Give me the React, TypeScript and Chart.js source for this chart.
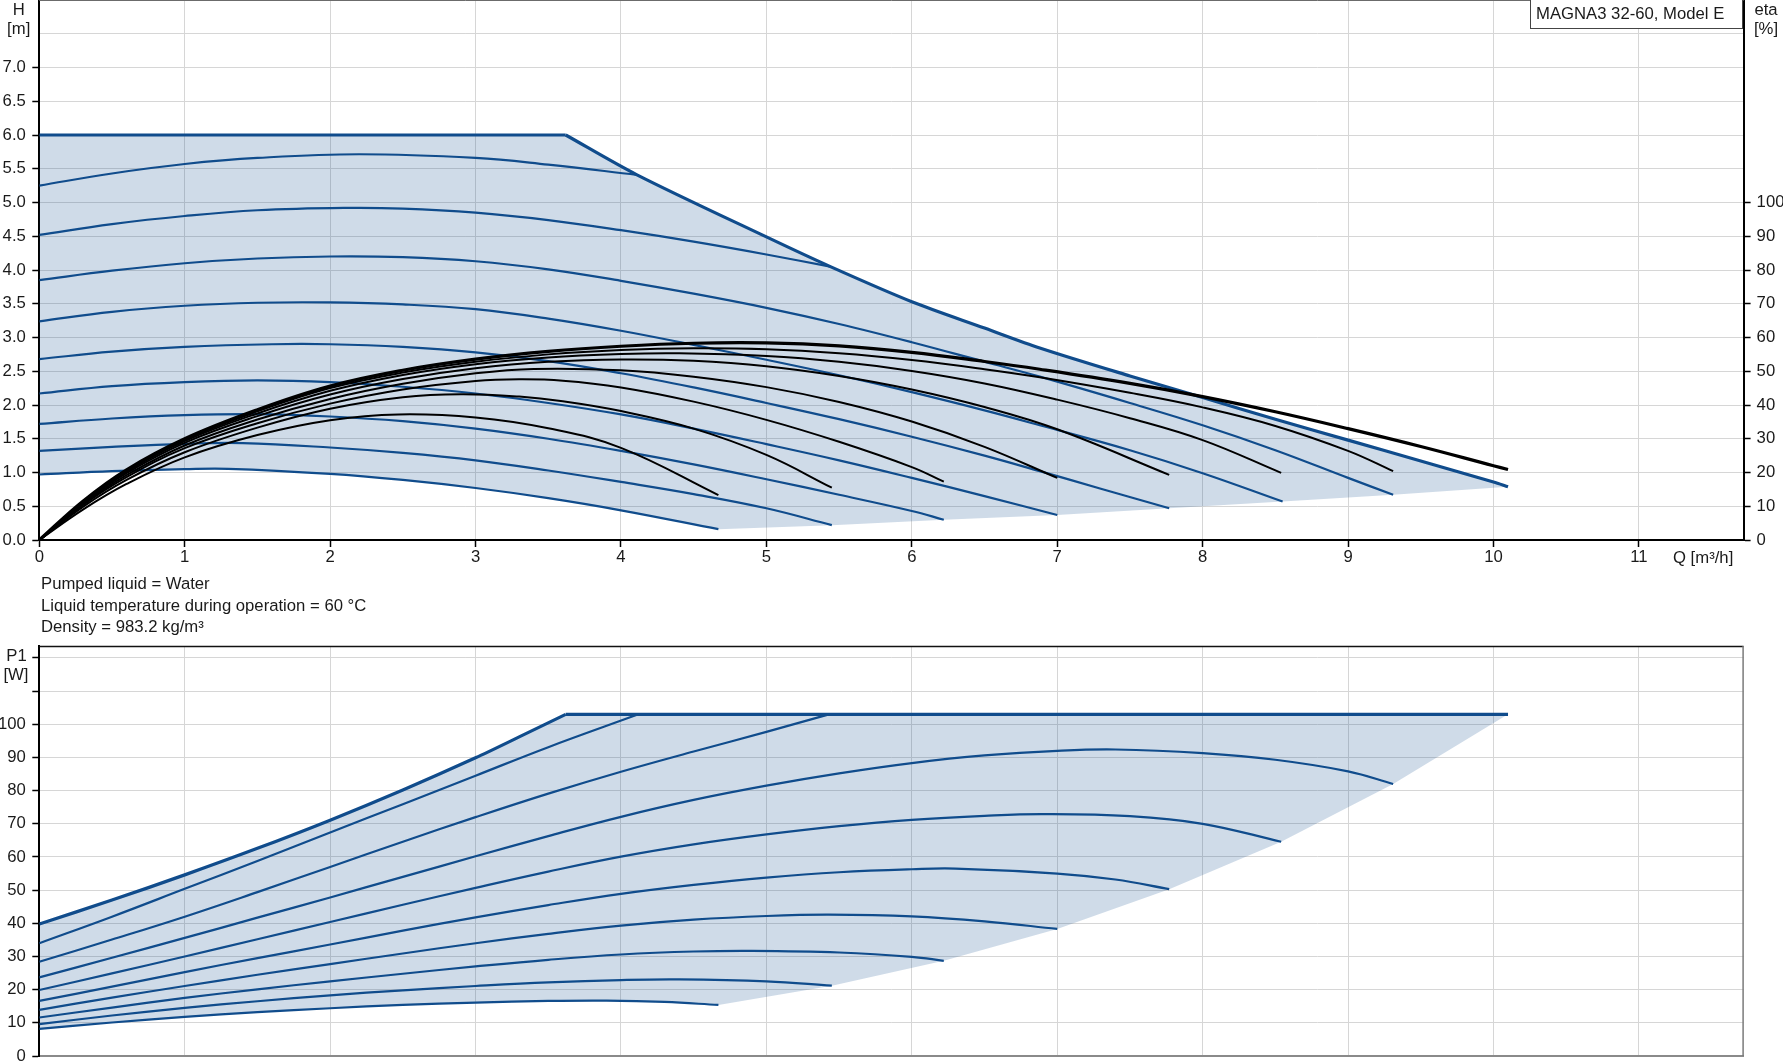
import React, { useEffect, useRef } from "react";
import { Chart, registerables } from "chart.js";

Chart.register(...registerables);

type Pt = [number, number];

/* ---------------- axis ticks ---------------- */
const Q_TICKS = [0, 1, 2, 3, 4, 5, 6, 7, 8, 9, 10, 11];
const Q_RANGE: Pt = [0, 11.72];
const H_TICKS = [0, 0.5, 1, 1.5, 2, 2.5, 3, 3.5, 4, 4.5, 5, 5.5, 6, 6.5, 7, 7.5, 8];
const H_TICK_LABELS = ["0.0", "0.5", "1.0", "1.5", "2.0", "2.5", "3.0", "3.5", "4.0", "4.5", "5.0", "5.5", "6.0", "6.5", "7.0", "", ""];
const H_RANGE: Pt = [0, 8];
const ETA_TICKS = [0, 10, 20, 30, 40, 50, 60, 70, 80, 90, 100];
const ETA_RANGE: Pt = [0, 160];
const P_TICKS = [0, 10, 20, 30, 40, 50, 60, 70, 80, 90, 100, 110, 120];
const P_TICK_LABELS = ["0", "10", "20", "30", "40", "50", "60", "70", "80", "90", "100", "", ""];
const P_RANGE: Pt = [0, 123.6];

/* ---------------- H (head) curves [Q, H] ---------------- */
const H_MAX_FLAT: Pt[] = [[0, 6.0], [3.62, 6.0]];
const H_MAX_FALL: Pt[] = [[3.62, 6.0], [4.11, 5.41], [5.0, 4.49], [5.44, 4.05], [6.0, 3.53], [6.5, 3.14], [6.88, 2.845], [7.5, 2.43], [8.0, 2.11], [8.5, 1.79], [9.0, 1.48], [9.5, 1.17], [10.0, 0.86], [10.1, 0.79]];
const H_1: Pt[] = [[0, 5.25], [0.5, 5.43], [1, 5.57], [1.5, 5.66], [2.2, 5.715], [3, 5.66], [3.5, 5.56], [4.11, 5.41]];
const H_2: Pt[] = [[0, 4.52], [0.5, 4.68], [1, 4.8], [1.5, 4.885], [2.1, 4.92], [2.5, 4.91], [3, 4.85], [3.5, 4.74], [4, 4.59], [4.5, 4.42], [5, 4.23], [5.44, 4.05]];
const H_3: Pt[] = [[0, 3.85], [0.5, 3.99], [1, 4.1], [1.5, 4.17], [2, 4.2], [2.5, 4.19], [3, 4.13], [3.5, 4.01], [4, 3.84], [4.5, 3.65], [5, 3.44], [5.5, 3.2], [6, 2.93], [6.5, 2.64], [6.88, 2.42], [7.5, 2.03], [8, 1.7], [8.5, 1.33], [9, 0.92], [9.31, 0.67]];
const H_4: Pt[] = [[0, 3.24], [0.5, 3.38], [1, 3.47], [1.5, 3.515], [2, 3.52], [2.5, 3.49], [3, 3.42], [3.5, 3.28], [4, 3.1], [4.5, 2.89], [5, 2.67], [5.5, 2.44], [6, 2.19], [6.5, 1.92], [6.88, 1.7], [7.5, 1.33], [8, 0.99], [8.55, 0.57]];
const H_5: Pt[] = [[0, 2.68], [0.5, 2.79], [1, 2.86], [1.6, 2.9], [2, 2.9], [2.5, 2.86], [3, 2.78], [3.5, 2.65], [4, 2.47], [4.5, 2.26], [5, 2.03], [5.5, 1.79], [6, 1.53], [6.5, 1.25], [6.88, 1.02], [7.3, 0.76], [7.77, 0.47]];
const H_6: Pt[] = [[0, 2.17], [0.5, 2.28], [1, 2.34], [1.5, 2.365], [2, 2.34], [2.5, 2.27], [3, 2.17], [3.5, 2.03], [4, 1.86], [4.5, 1.65], [5, 1.42], [5.5, 1.18], [6, 0.92], [6.5, 0.65], [7.0, 0.37]];
const H_7: Pt[] = [[0, 1.72], [0.5, 1.8], [1, 1.85], [1.5, 1.865], [2, 1.83], [2.5, 1.76], [3, 1.65], [3.5, 1.5], [4, 1.32], [4.5, 1.12], [5, 0.9], [5.5, 0.67], [6, 0.43], [6.22, 0.3]];
const H_8: Pt[] = [[0, 1.32], [0.5, 1.38], [1, 1.425], [1.4, 1.435], [2, 1.37], [2.5, 1.29], [3, 1.18], [3.5, 1.03], [4, 0.86], [4.5, 0.68], [5, 0.47], [5.45, 0.22]];
const H_9: Pt[] = [[0, 0.97], [0.5, 1.02], [1, 1.05], [1.3, 1.055], [2, 0.98], [2.5, 0.89], [3, 0.77], [3.5, 0.62], [4, 0.44], [4.67, 0.16]];
const H_LOWER_EDGE: Pt[] = [[4.67, 0.16], [5.45, 0.22], [6.22, 0.3], [7.0, 0.37], [7.77, 0.47], [8.55, 0.57], [9.31, 0.67], [10.1, 0.79]];

/* ---------------- eta (efficiency) curves [Q, %] ---------------- */
const ETA_8: Pt[] = [[0, 0], [0.3, 11.5], [0.6, 20.8], [1, 30], [1.5, 38.6], [2, 45.6], [2.5, 50.3], [3, 53.6], [3.5, 55.9], [4, 57.4], [4.5, 58.3], [5, 58.4], [5.5, 57.5], [6, 55.6], [6.5, 52.9], [6.88, 50.6], [7.5, 46.4], [8, 42.5], [8.5, 38], [9, 33], [9.5, 27.7], [10, 22], [10.1, 20.9]];
const ETA_7: Pt[] = [[0, 0], [0.3, 11.3], [0.6, 20.5], [1, 29.7], [1.5, 38.1], [2, 45], [2.5, 49.6], [3, 52.8], [3.5, 55], [4, 56.3], [4.5, 56.8], [5, 56.5], [5.5, 55.3], [6, 53.3], [6.5, 50.6], [6.88, 48.2], [7.5, 43.6], [8, 39.3], [8.5, 33.8], [9, 26.4], [9.31, 20.4]];
const ETA_6: Pt[] = [[0, 0], [0.3, 11.1], [0.6, 20.2], [1, 29.3], [1.5, 37.5], [2, 44.2], [2.5, 48.9], [3, 52.1], [3.5, 54.1], [4, 55.1], [4.4, 55.3], [5, 54.5], [5.5, 52.8], [6, 50.1], [6.5, 46.4], [7, 41.6], [7.5, 36.1], [8, 29.6], [8.54, 19.9]];
const ETA_5: Pt[] = [[0, 0], [0.3, 10.9], [0.6, 19.8], [1, 28.8], [1.5, 36.7], [2, 43.1], [2.5, 47.7], [3, 50.9], [3.5, 52.8], [4, 53.5], [4.5, 53.1], [5, 51.5], [5.5, 48.6], [6, 44.6], [6.5, 39.4], [7, 32.8], [7.77, 19.3]];
const ETA_4: Pt[] = [[0, 0], [0.3, 10.6], [0.6, 19.2], [1, 28], [1.5, 35.7], [2, 41.8], [2.5, 46.3], [3, 49.4], [3.4, 50.7], [4, 50.3], [4.5, 48.4], [5, 45.3], [5.5, 40.9], [6, 35.1], [6.5, 27.6], [7.0, 18.4]];
const ETA_3: Pt[] = [[0, 0], [0.3, 10.3], [0.6, 18.6], [1, 27.2], [1.5, 34.6], [2, 40.4], [2.5, 44.6], [3, 47.1], [3.3, 47.6], [3.6, 47.2], [4, 45.2], [4.5, 41], [5, 35.6], [5.5, 29.1], [6, 21.6], [6.22, 17.3]];
const ETA_2: Pt[] = [[0, 0], [0.3, 9.8], [0.6, 17.8], [1, 26], [1.5, 33.3], [2, 38.9], [2.5, 42.3], [2.9, 43.2], [3.3, 42.5], [3.6, 41.1], [4, 38.2], [4.5, 33], [5, 25.2], [5.45, 15.5]];
const ETA_1: Pt[] = [[0, 0], [0.3, 9], [0.6, 16.6], [1, 24.5], [1.5, 31.1], [2, 35.5], [2.47, 37.2], [3, 36.3], [3.5, 33.1], [4, 27.3], [4.67, 13.3]];

/* ---------------- P1 (power) curves [Q, W] ---------------- */
const P_MAX_RISE: Pt[] = [[0, 39.8], [0.5, 47.0], [1, 54.6], [1.5, 62.6], [2, 71.1], [2.5, 80.2], [3, 89.9], [3.3, 96.2], [3.62, 103]];
const P_MAX_FLAT: Pt[] = [[3.62, 103], [10.1, 103]];
const P_2: Pt[] = [[0, 34], [0.5, 42], [1, 50.4], [1.5, 58.8], [2, 67.4], [2.5, 75.9], [3, 84.5], [3.5, 93.1], [4.12, 103]];
const P_3: Pt[] = [[0, 28.4], [0.5, 35.1], [1, 42], [1.5, 49.4], [2, 57], [2.5, 64.6], [3, 72], [3.5, 79.1], [4, 85.7], [4.5, 91.8], [5, 97.7], [5.43, 103]];
const P_4: Pt[] = [[0, 23.7], [0.5, 29.6], [1, 35.6], [1.5, 41.7], [2, 47.8], [2.5, 54], [3, 60.2], [3.5, 66.3], [4, 72.1], [4.5, 77.2], [5, 81.5], [5.5, 85.2], [6, 88.3], [6.5, 90.6], [7, 92], [7.4, 92.4], [8, 91.3], [8.5, 89.3], [9, 85.8], [9.31, 82]];
const P_5: Pt[] = [[0, 19.9], [0.5, 24.9], [1, 30], [1.5, 35.2], [2, 40.4], [2.5, 45.6], [3, 50.7], [3.5, 55.6], [4, 60.1], [4.5, 63.8], [5, 66.8], [5.5, 69.3], [6, 71.2], [6.5, 72.4], [6.9, 72.9], [7.5, 72.3], [8, 70], [8.54, 64.6]];
const P_6: Pt[] = [[0, 16.6], [0.5, 20.9], [1, 25.3], [1.5, 29.5], [2, 33.6], [2.5, 37.8], [3, 41.8], [3.5, 45.5], [4, 48.9], [4.5, 51.6], [5, 53.8], [5.5, 55.4], [6, 56.3], [6.3, 56.5], [7, 55], [7.4, 53.2], [7.77, 50.3]];
const P_7: Pt[] = [[0, 13.9], [0.5, 17.6], [1, 21.1], [1.5, 24.5], [2, 27.7], [2.5, 30.9], [3, 34], [3.5, 36.8], [4, 39.3], [4.5, 41.1], [5, 42.2], [5.43, 42.6], [6, 42.1], [6.5, 40.6], [7.0, 38.3]];
const P_8: Pt[] = [[0, 11.6], [0.5, 14.6], [1, 17.5], [1.5, 20.1], [2, 22.5], [2.5, 24.8], [3, 27], [3.5, 29], [4, 30.6], [4.5, 31.5], [4.9, 31.7], [5.5, 31.2], [6, 29.9], [6.22, 28.7]];
const P_9: Pt[] = [[0, 9.6], [0.5, 12.2], [1, 14.5], [1.5, 16.5], [2, 18.3], [2.5, 19.8], [3, 21.1], [3.5, 22.2], [4, 22.9], [4.4, 23.1], [5, 22.5], [5.45, 21.2]];
const P_10: Pt[] = [[0, 8.2], [0.5, 10.1], [1, 11.8], [1.5, 13.2], [2, 14.4], [2.5, 15.4], [3, 16.1], [3.5, 16.6], [3.9, 16.7], [4.3, 16.3], [4.67, 15.4]];
const P_LOWER_EDGE: Pt[] = [[4.67, 15.4], [5.45, 21.2], [6.22, 28.7], [7.0, 38.3], [7.77, 50.3], [8.54, 64.6], [9.31, 82], [10.1, 103]];

/* ---------------- texts ---------------- */
const PRODUCT = "MAGNA3 32-60, Model E";
const NOTES = ["Pumped liquid = Water", "Liquid temperature during operation = 60 °C", "Density = 983.2 kg/m³"];

/* ---------------- styling ---------------- */
const FONT = 'Arial, "Liberation Sans", sans-serif';
const FONT_SIZE = 16.7;
const TEXT = "#1a1a1a";
const GRID = "#d6d6d6";
const BLUE = "#104c8c";
const FILL = "rgba(16,76,140,0.2)";

const xy = (pts: Pt[]) => pts.map(([x, y]) => ({ x, y }));
const rev = (pts: Pt[]) => [...pts].reverse();

const zeroPad = (s: any) => {
  s.paddingLeft = 0;
  s.paddingRight = 0;
  s.paddingTop = 0;
  s.paddingBottom = 0;
};

function line(pts: Pt[], color: string, width: number, order: number, yAxisID = "y", tension = 0.4): any {
  return {
    data: xy(pts),
    borderColor: color,
    backgroundColor: color,
    borderWidth: width,
    pointRadius: 0,
    fill: false,
    tension,
    cubicInterpolationMode: "default",
    yAxisID,
    order,
  };
}

function area(pts: Pt[], order: number): any {
  return {
    data: xy(pts),
    borderWidth: 0,
    borderColor: "rgba(0,0,0,0)",
    backgroundColor: FILL,
    pointRadius: 0,
    fill: "shape",
    tension: 0,
    order,
  };
}

const tickFont = { family: FONT, size: FONT_SIZE };

const topFrame = {
  id: "topFrame",
  afterDraw(chart: any) {
    const { ctx, chartArea: a } = chart;
    ctx.save();
    ctx.strokeStyle = "#6b6b6b";
    ctx.lineWidth = 1;
    ctx.beginPath();
    ctx.moveTo(a.left, a.top + 0.5);
    ctx.lineTo(a.right, a.top + 0.5);
    ctx.stroke();
    ctx.restore();
  },
};

const bottomFrame = {
  id: "bottomFrame",
  afterDraw(chart: any) {
    const { ctx, chartArea: a } = chart;
    ctx.save();
    ctx.lineWidth = 1.5;
    ctx.strokeStyle = "#111";
    ctx.beginPath();
    ctx.moveTo(a.left, a.top + 0.5);
    ctx.lineTo(a.right, a.top + 0.5);
    ctx.stroke();
    ctx.strokeStyle = "#7a7a7a";
    ctx.beginPath();
    ctx.moveTo(a.right - 0.5, a.top);
    ctx.lineTo(a.right - 0.5, a.bottom);
    ctx.stroke();
    ctx.restore();
  },
};

function topConfig(): any {
  const datasets = [
    line(ETA_8, "#000", 3.2, 0, "y2"),
    line(ETA_7, "#000", 2, 1, "y2"),
    line(ETA_6, "#000", 2, 1, "y2"),
    line(ETA_5, "#000", 2, 1, "y2"),
    line(ETA_4, "#000", 2, 1, "y2"),
    line(ETA_3, "#000", 2, 1, "y2"),
    line(ETA_2, "#000", 2, 1, "y2"),
    line(ETA_1, "#000", 2, 1, "y2"),
    line(H_MAX_FLAT, BLUE, 3.2, 4, "y", 0),
    line(H_MAX_FALL, BLUE, 3.2, 4, "y", 0.3),
    line(H_1, BLUE, 2.2, 5),
    line(H_2, BLUE, 2.2, 5),
    line(H_3, BLUE, 2.2, 5),
    line(H_4, BLUE, 2.2, 5),
    line(H_5, BLUE, 2.2, 5),
    line(H_6, BLUE, 2.2, 5),
    line(H_7, BLUE, 2.2, 5),
    line(H_8, BLUE, 2.2, 5),
    line(H_9, BLUE, 2.2, 5),
    area([...H_MAX_FLAT, ...H_MAX_FALL.slice(1), ...rev(H_LOWER_EDGE), ...rev(H_9)], 10),
  ];
  return {
    type: "line",
    data: { datasets },
    plugins: [topFrame],
    options: {
      animation: false,
      responsive: false,
      maintainAspectRatio: false,
      devicePixelRatio: 1,
      events: [],
      layout: { padding: 0, autoPadding: false },
      plugins: { legend: { display: false }, tooltip: { enabled: false } },
      scales: {
        x: {
          type: "linear",
          min: Q_RANGE[0],
          max: Q_RANGE[1],
          afterBuildTicks: (s: any) => {
            s.ticks = Q_TICKS.map((v) => ({ value: v }));
          },
          afterFit: (s: any) => {
            s.height = 35;
            zeroPad(s);
          },
          grid: { color: GRID, lineWidth: 1, tickColor: "#000", tickLength: 7, tickWidth: 1.5 },
          border: { color: "#000", width: 2 },
          ticks: { padding: 0, color: TEXT, font: tickFont, maxRotation: 0, autoSkip: false, callback: (v: number) => String(v) },
        },
        y: {
          type: "linear",
          position: "left",
          min: H_RANGE[0],
          max: H_RANGE[1],
          afterBuildTicks: (s: any) => {
            s.ticks = H_TICKS.map((v) => ({ value: v }));
          },
          afterFit: (s: any) => {
            s.width = 39.3;
            zeroPad(s);
          },
          grid: {
            color: GRID,
            lineWidth: 1,
            tickLength: 7,
            tickWidth: 1.5,
            tickColor: (c: any) => (c.tick && c.tick.value > 7 ? "rgba(0,0,0,0)" : "#000"),
          },
          border: { color: "#000", width: 2 },
          ticks: {
            padding: 6.5,
            color: TEXT,
            font: tickFont,
            autoSkip: false,
            callback: (v: number) => H_TICK_LABELS[H_TICKS.indexOf(v)] ?? "",
          },
        },
        y2: {
          type: "linear",
          position: "right",
          min: ETA_RANGE[0],
          max: ETA_RANGE[1],
          afterBuildTicks: (s: any) => {
            s.ticks = ETA_TICKS.map((v) => ({ value: v }));
          },
          afterFit: (s: any) => {
            s.width = 39.4;
            zeroPad(s);
          },
          grid: { drawOnChartArea: false, tickColor: "#000", tickLength: 7, tickWidth: 1.5 },
          border: { color: "#000", width: 2 },
          ticks: { padding: 6, color: TEXT, font: tickFont, autoSkip: false, callback: (v: number) => String(v) },
        },
      },
    },
  };
}

function bottomConfig(): any {
  const datasets = [
    line(P_MAX_RISE, BLUE, 3.2, 4, "y", 0.3),
    line(P_MAX_FLAT, BLUE, 3.2, 4, "y", 0),
    line(P_2, BLUE, 2.2, 5),
    line(P_3, BLUE, 2.2, 5),
    line(P_4, BLUE, 2.2, 5),
    line(P_5, BLUE, 2.2, 5),
    line(P_6, BLUE, 2.2, 5),
    line(P_7, BLUE, 2.2, 5),
    line(P_8, BLUE, 2.2, 5),
    line(P_9, BLUE, 2.2, 5),
    line(P_10, BLUE, 2.2, 5),
    area([...P_MAX_RISE, ...P_MAX_FLAT.slice(1), ...rev(P_LOWER_EDGE), ...rev(P_10)], 10),
  ];
  return {
    type: "line",
    data: { datasets },
    plugins: [bottomFrame],
    options: {
      animation: false,
      responsive: false,
      maintainAspectRatio: false,
      devicePixelRatio: 1,
      events: [],
      layout: { padding: { top: 6, right: 39.4, left: 0, bottom: 0 }, autoPadding: false },
      plugins: { legend: { display: false }, tooltip: { enabled: false } },
      scales: {
        x: {
          type: "linear",
          min: Q_RANGE[0],
          max: Q_RANGE[1],
          afterBuildTicks: (s: any) => {
            s.ticks = Q_TICKS.map((v) => ({ value: v }));
          },
          afterFit: (s: any) => {
            s.height = 5;
            zeroPad(s);
          },
          grid: { color: GRID, lineWidth: 1, drawTicks: false },
          border: { color: "#8a8a8a", width: 2 },
          ticks: { display: false },
        },
        y: {
          type: "linear",
          position: "left",
          min: P_RANGE[0],
          max: P_RANGE[1],
          afterBuildTicks: (s: any) => {
            s.ticks = P_TICKS.map((v) => ({ value: v }));
          },
          afterFit: (s: any) => {
            s.width = 39.3;
            zeroPad(s);
          },
          grid: { color: GRID, lineWidth: 1, tickLength: 7, tickWidth: 1.5, tickColor: "#000" },
          border: { color: "#000", width: 2 },
          ticks: {
            padding: 6.5,
            color: TEXT,
            font: tickFont,
            autoSkip: false,
            callback: (v: number) => P_TICK_LABELS[P_TICKS.indexOf(v)] ?? "",
          },
        },
      },
    },
  };
}

const txt = (extra: React.CSSProperties): React.CSSProperties => ({
  position: "absolute",
  fontFamily: FONT,
  fontSize: FONT_SIZE,
  lineHeight: "20px",
  color: TEXT,
  whiteSpace: "nowrap",
  ...extra,
});

export default function App() {
  const topRef = useRef<HTMLCanvasElement | null>(null);
  const botRef = useRef<HTMLCanvasElement | null>(null);

  useEffect(() => {
    const top = new Chart(topRef.current as HTMLCanvasElement, topConfig());
    const bot = new Chart(botRef.current as HTMLCanvasElement, bottomConfig());
    return () => {
      top.destroy();
      bot.destroy();
    };
  }, []);

  return (
    <div style={{ position: "absolute", left: 0, top: 0, width: 1783, height: 1061, overflow: "hidden", background: "#fff" }}>
      <canvas ref={topRef} width={1783} height={575} style={{ position: "absolute", left: 0, top: 0, width: 1783, height: 575 }} />
      <canvas ref={botRef} width={1783} height={421} style={{ position: "absolute", left: 0, top: 640, width: 1783, height: 421 }} />

      <div style={txt({ left: 0, top: -0.5, width: 37.4, textAlign: "center" })}>H</div>
      <div style={txt({ left: 0, top: 19, width: 37.4, textAlign: "center" })}>[m]</div>

      <div style={txt({ left: 1746, top: -0.5, width: 40, textAlign: "center" })}>eta</div>
      <div style={txt({ left: 1746, top: 19, width: 40, textAlign: "center" })}>[%]</div>

      <div
        style={txt({
          left: 1530,
          top: 0,
          width: 213,
          height: 29,
          boxSizing: "border-box",
          border: "1px solid #444",
          borderTop: "none",
          background: "#fff",
          paddingLeft: 5,
          paddingTop: 3.5,
        })}
      >
        {PRODUCT}
      </div>

      <div style={txt({ left: 1673, top: 548 })}>Q [m³/h]</div>

      <div style={txt({ left: 41, top: 573.5 })}>{NOTES[0]}</div>
      <div style={txt({ left: 41, top: 595.5 })}>{NOTES[1]}</div>
      <div style={txt({ left: 41, top: 616.5 })}>{NOTES[2]}</div>

      <div style={txt({ left: 0, top: 645.8, width: 33, textAlign: "center" })}>P1</div>
      <div style={txt({ left: 0, top: 665, width: 32, textAlign: "center" })}>[W]</div>
    </div>
  );
}
